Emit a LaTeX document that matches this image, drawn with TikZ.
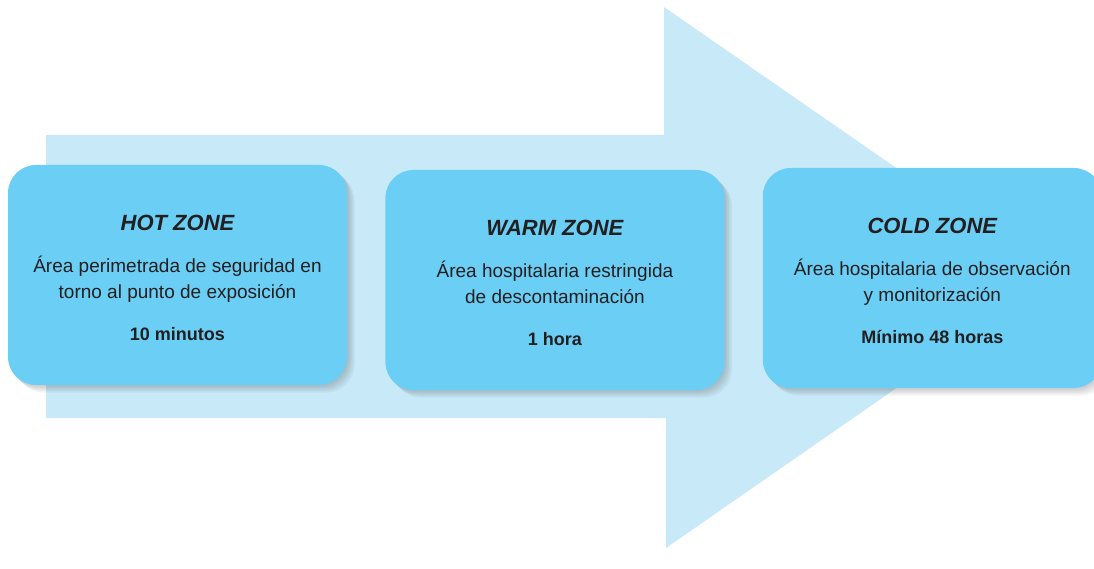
\documentclass[tikz,border=0pt]{standalone}
\usepackage{fontspec}
\setmainfont{Liberation Sans}
\usepackage{xcolor}
\usepackage{tikz}
\usetikzlibrary{positioning, shadows}
\definecolor{zonefill}{HTML}{6BCEF5}
\definecolor{flowfill}{HTML}{C8E9F8}
\definecolor{inkdark}{HTML}{231F20}
\newcommand{\zonetitle}[1]{%
    {\fontsize{22}{26}\selectfont\bfseries\itshape\rule{0pt}{22pt}#1}%
}
\newcommand{\zonetime}[1]{%
    {\fontsize{18}{26}\selectfont\bfseries #1}%
}

\begin{document}
\begin{tikzpicture}[
        x=1pt, y=-1pt,
        node distance=38pt,
        softshadow/.style={general shadow={fill=black!70, opacity=0.06,
            shadow xshift=#1, shadow yshift=-#1}},
        zone/.style={
            fill=zonefill,
            rounded corners=28pt,
            minimum width=339pt,
            minimum height=220pt,
            align=center,
            text=inkdark,
            font=\fontsize{19}{26}\selectfont,
            softshadow=1.5pt, softshadow=3pt, softshadow=4.5pt,
            softshadow=6pt, softshadow=7.5pt
        }
    ]
        \useasboundingbox (0,0) rectangle (1094,569);

        % big background arrow
        \fill[flowfill] (46,135) -- (664,135) -- (664,7) -- (1055,278)
            -- (666,548) -- (666,418) -- (46,418) -- cycle;

        \node[zone] (hot) at (177.5,275) {\zonetitle{HOT ZONE}\\[16pt]
            Área perimetrada de seguridad en\\ torno al punto de exposición\\[16pt]
            \zonetime{10 minutos}};
        \node[zone, right=of hot, yshift=-5pt] (warm) {\zonetitle{WARM ZONE}\\[16pt]
            Área hospitalaria restringida\\ de descontaminación\\[16pt]
            \zonetime{1 hora}};
        \node[zone, right=of warm, yshift=2pt] (cold) {\zonetitle{COLD ZONE}\\[16pt]
            Área hospitalaria de observación\\ y monitorización\\[16pt]
            \zonetime{Mínimo 48 horas}};
    \end{tikzpicture}
\end{document}
